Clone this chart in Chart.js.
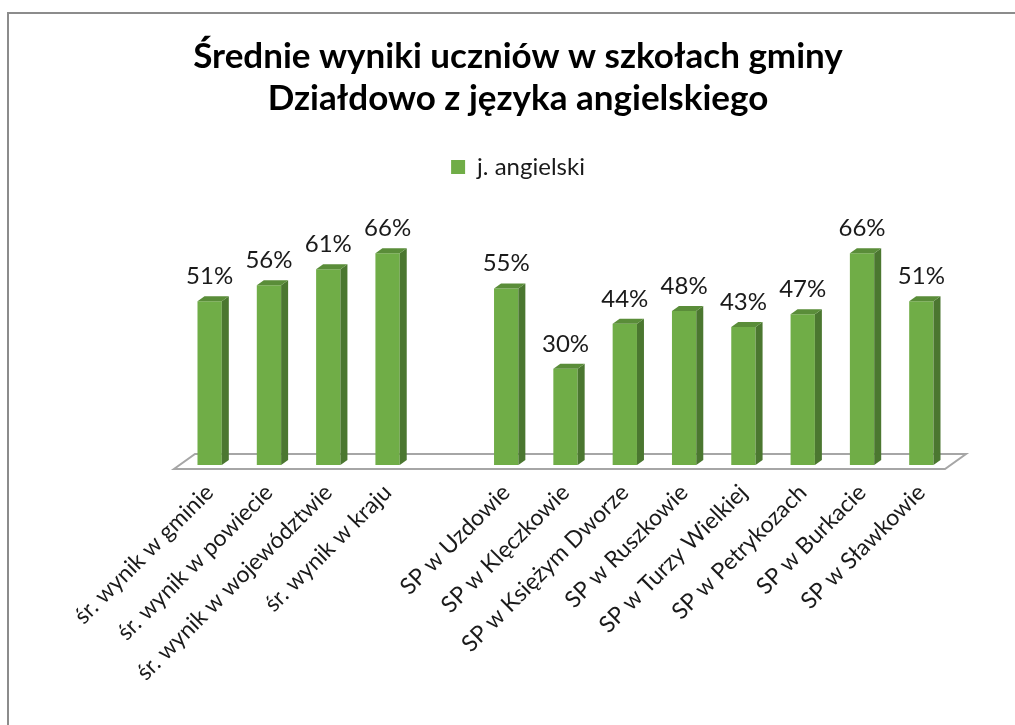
<!DOCTYPE html>
<html lang="pl">
<head>
<meta charset="utf-8">
<script src="https://cdn.jsdelivr.net/npm/chart.js@4.4.0/dist/chart.umd.min.js"></script>
<style>
  html, body { margin: 0; padding: 0; background: #fff; overflow: hidden; }
  #wrap { position: relative; width: 1015px; height: 725px; }
  #frame { position: absolute; left: 7px; top: 12px; width: 1100px; height: 800px;
           border-left: 2px solid #8c8c8c; border-top: 2px solid #8c8c8c; pointer-events: none; }
</style>
</head>
<body>
<div id="wrap">
  <canvas id="chart" width="1015" height="725"></canvas>
  <div id="frame"></div>
</div>
<script>
const TITLE_LINES = ['Średnie wyniki uczniów w szkołach gminy', 'Działdowo z języka angielskiego'];
const SERIES_NAME = 'j. angielski';
const CATEGORIES = [
    'śr. wynik w gminie', 'śr. wynik w powiecie', 'śr. wynik w województwie', 'śr. wynik w kraju',
    '',
    'SP w Uzdowie', 'SP w Klęczkowie', 'SP w Księżym Dworze', 'SP w Ruszkowie',
    'SP w Turzy Wielkiej', 'SP w Petrykozach', 'SP w Burkacie', 'SP w Sławkowie'
];
const SCORES = [51, 56, 61, 66, null, 55, 30, 44, 48, 43, 47, 66, 51];
const Y_MAX = 86;

const FRONT = '#70ad47';
const SIDE = '#4b7730';
const TOP = '#5a8d39';
const DEPTH_X = 7;
const DEPTH_Y = 5;
const FONT = 'Lato';

function poly(ctx, pts, fill) {
    ctx.beginPath();
    ctx.moveTo(pts[0], pts[1]);
    for (let i = 2; i < pts.length; i += 2) ctx.lineTo(pts[i], pts[i + 1]);
    ctx.closePath();
    ctx.fillStyle = fill;
    ctx.fill();
}

// floor plane + side/top faces of the bars + value labels
const bars3d = {
    id: 'bars3d',
    beforeDatasetsDraw(chart) {
        const { ctx, chartArea: a, scales: { y } } = chart;
        const base = y.getPixelForValue(0);
        ctx.save();
        ctx.beginPath();
        ctx.moveTo(a.left - 6, base + 4);
        ctx.lineTo(a.right - 6, base + 4);
        ctx.lineTo(a.right + 15, base - 11);
        ctx.lineTo(a.left + 15, base - 11);
        ctx.closePath();
        ctx.fillStyle = '#fff';
        ctx.fill();
        ctx.strokeStyle = '#a6a6a6';
        ctx.lineWidth = 2;
        ctx.stroke();
        ctx.restore();
    },
    afterDatasetsDraw(chart) {
        const ctx = chart.ctx;
        const meta = chart.getDatasetMeta(0);
        ctx.save();
        meta.data.forEach((bar, i) => {
            if (SCORES[i] == null) return;
            const { x, y, width, base } = bar.getProps(['x', 'y', 'width', 'base'], true);
            const l = x - width / 2, r = x + width / 2;
            poly(ctx, [r, y, r + DEPTH_X, y - DEPTH_Y, r + DEPTH_X, base - DEPTH_Y, r, base], SIDE);
            poly(ctx, [l, y, l + DEPTH_X, y - DEPTH_Y, r + DEPTH_X, y - DEPTH_Y, r, y], TOP);
            ctx.fillStyle = '#1a1a1a';
            ctx.font = '24px ' + FONT;
            ctx.textAlign = 'center';
            ctx.textBaseline = 'alphabetic';
            ctx.fillText(SCORES[i] + '%', x, y - 17);
        });
        ctx.restore();
    }
};

new Chart(document.getElementById('chart'), {
    type: 'bar',
    data: {
        labels: CATEGORIES,
        datasets: [{
            label: SERIES_NAME,
            data: SCORES,
            backgroundColor: FRONT,
            borderWidth: 0,
            barPercentage: 0.41,
            categoryPercentage: 1
        }]
    },
    options: {
        responsive: false,
        animation: false,
        layout: { padding: { left: 21, right: 0, top: 0, bottom: 0 } },
        plugins: {
            title: {
                display: true,
                text: TITLE_LINES,
                color: '#000',
                font: { family: FONT, size: 35, weight: 'bold', lineHeight: 1.2 },
                padding: { top: 36, bottom: 25 }
            },
            legend: {
                display: true,
                labels: {
                    color: '#1a1a1a',
                    font: { family: FONT, size: 24 },
                    boxWidth: 14,
                    boxHeight: 14,
                    padding: 10
                }
            },
            tooltip: { enabled: false }
        },
        scales: {
            x: {
                grid: { display: false, drawTicks: false },
                border: { display: false },
                ticks: {
                    autoSkip: false,
                    maxRotation: 45,
                    minRotation: 45,
                    padding: 14,
                    color: '#1a1a1a',
                    font: { family: FONT, size: 23 }
                },
                afterFit(scale) {
                    scale.height = 260;
                    scale.paddingLeft = 180;
                    scale.paddingRight = 64;
                }
            },
            y: {
                display: false,
                min: 0,
                max: Y_MAX
            }
        }
    },
    plugins: [bars3d]
});
</script>
</body>
</html>
